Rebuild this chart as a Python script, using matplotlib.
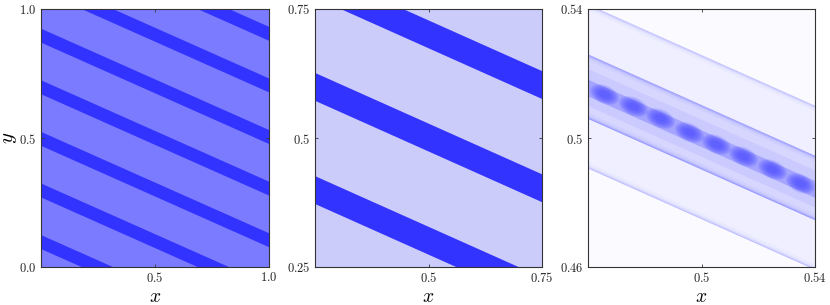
import numpy as np
import matplotlib
matplotlib.use("Agg")
import matplotlib.pyplot as plt
from matplotlib.markers import MarkerStyle
from matplotlib.transforms import Affine2D

plt.rcParams["mathtext.fontset"] = "cm"
plt.rcParams["font.family"] = ["DejaVu Sans"]

# stripes: y of the upper edge where x = 0, all share one slope
slope = -0.393
stripe_tops = [1.325, 1.125, 0.925, 0.725, 0.525, 0.325, 0.125]
stripe_width = 0.054

# right panel, y at x = 0.46
outer_band = [0.5413, 0.4907]
middle_band = [0.5258, 0.5061]
inner_band = [0.5215, 0.5100]
core_band = [0.5182, 0.5130]
blob_x = [0.4655, 0.4760, 0.4854, 0.4957, 0.5050, 0.5147, 0.5247, 0.5346]
blob_y = [0.5137, 0.5098, 0.5063, 0.5019, 0.4982, 0.4943, 0.4903, 0.4862]
# soft edges: offset from the edge towards the inside of the band
edge_offsets = [0.0, 0.0003, 0.0006, 0.001, 0.0015]
edge_alphas = [0.26, 0.14, 0.09, 0.05, 0.03]

xticks = [[0.5, 1.0], [0.5, 0.75], [0.5, 0.54]]
yticks = [[0.0, 0.5, 1.0], [0.25, 0.5, 0.75], [0.46, 0.5, 0.54]]
xticklabels = [["0.5", "1.0"], ["0.5", "0.75"], ["0.5", "0.54"]]
yticklabels = [["0.0", "0.5", "1.0"], ["0.25", "0.5", "0.75"], ["0.46", "0.5", "0.54"]]
limits = [(0.0, 1.0), (0.25, 0.75), (0.46, 0.54)]
backgrounds = ["#7b7bff", "#ccccfb", "#fbfbff"]

W, H = 830, 305
boxes = [(41, 9, 228, 258), (315, 9, 227, 258), (588, 9, 227, 258)]

fig = plt.figure(figsize=(8.3, 3.05), dpi=100)
axes = []
for i, (l, t, w, h) in enumerate(boxes):
    ax = fig.add_axes([l / W, 1 - (t + h) / H, w / W, h / H])
    ax.set_xlim(limits[i])
    ax.set_ylim(limits[i])
    ax.set_facecolor(backgrounds[i])
    ax.set_xticks(xticks[i])
    ax.set_yticks(yticks[i])
    ax.set_xticklabels(["$%s$" % s for s in xticklabels[i]])
    ax.set_yticklabels(["$%s$" % s for s in yticklabels[i]])
    ax.tick_params(direction="in", top=True, right=True, length=2.5, width=0.6,
                   labelsize=9, pad=3, color="#333333", labelcolor="#222222")
    for s in ax.spines.values():
        s.set_linewidth(0.8)
        s.set_color("#333333")
    ax.set_xlabel("$x$", fontsize=14, labelpad=1)
    axes.append(ax)
axes[0].set_ylabel("$y$", fontsize=15, labelpad=0)

# left and middle panels: solid stripes
for ax in axes[:2]:
    x = np.array(ax.get_xlim())
    for top in stripe_tops:
        ax.fill_between(x, top + slope * x, top - stripe_width + slope * x,
                        color="#3333ff", lw=0)

# right panel: nested translucent bands with soft darker edges
ax = axes[2]
x = np.array(limits[2])
dx = x - x[0]
for band, a in [(outer_band, 0.06), (middle_band, 0.13), (inner_band, 0.07), (core_band, 0.24)]:
    ax.fill_between(x, band[0] + slope * dx, band[1] + slope * dx,
                    color="#3333ff", alpha=a, lw=0)
for band, factor in [(outer_band, 1.0), (middle_band, 1.5)]:
    for off, a in zip(edge_offsets, edge_alphas):
        ax.plot(x, band[0] - off + slope * dx, color="#3333ff", alpha=a * factor, lw=0.7)
        ax.plot(x, band[1] + off + slope * dx, color="#3333ff", alpha=a * factor, lw=0.7)

blob = MarkerStyle("o", transform=Affine2D().scale(1.7, 1.0).rotate_deg(-24))
for size in [230, 195, 160, 130, 100, 75, 50, 30]:
    ax.scatter(blob_x, blob_y, s=size * 0.75, marker=blob, color="#2a2aff",
               alpha=0.09, linewidths=0, clip_on=True)

fig.savefig("out.png", dpi=100)
